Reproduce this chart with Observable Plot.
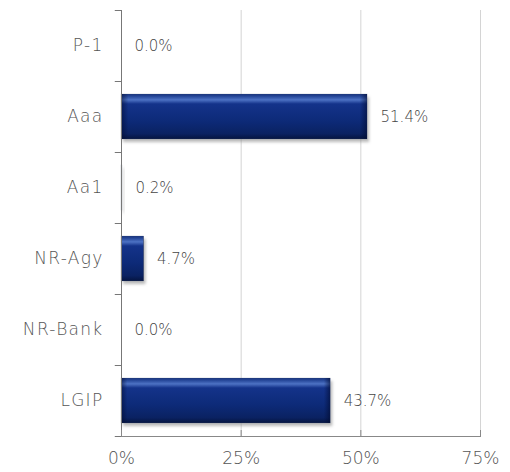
<!DOCTYPE html>
<html>
<head>
<meta charset="utf-8">
<script src="https://cdn.jsdelivr.net/npm/d3@7"></script>
<script src="https://cdn.jsdelivr.net/npm/@observablehq/plot@0.6"></script>
<style>
  html, body { margin: 0; padding: 0; background: #fff; }
  .ylab text { letter-spacing: 1.3px; }
</style>
</head>
<body>
<div id="chart"></div>
<script>
const categories = ["P-1", "Aaa", "Aa1", "NR-Agy", "NR-Bank", "LGIP"];
const values = [0.0, 51.4, 0.2, 4.7, 0.0, 43.7];
const xTicks = [0, 25, 50, 75];

const data = categories.map((c, i) => ({category: c, value: values[i]}));

const W = 510, H = 472, mt = 10, mb = 36, ml = 121, mr = 30;
const step = (H - mt - mb) / categories.length;
const font = "DejaVu Sans, sans-serif";

const plot = Plot.plot({
  width: W,
  height: H,
  marginTop: mt,
  marginBottom: mb,
  marginLeft: ml,
  marginRight: mr,
  style: {fontFamily: font, background: "#fff", overflow: "visible"},
  x: {domain: [0, 75], ticks: xTicks},
  y: {domain: categories, paddingInner: 0.36, paddingOuter: 0.18},
  marks: [
    Plot.gridX(xTicks.filter(d => d > 0), {stroke: "#d4d4d4", strokeOpacity: 1}),
    // bar shadows
    Plot.barX(data, {x: "value", y: "category", fill: "#8a8a8a", fillOpacity: 0.6, dx: 2, dy: 3, className: "shadow"}),
    Plot.barX(data, {x: "value", y: "category", fill: "url(#barGrad)", stroke: "#5a6a8a", strokeOpacity: 0.35, strokeWidth: 0.6, className: "bars"}),
    Plot.barX(data, {x: "value", y: "category", fill: "url(#edgeGrad)"}),
    Plot.ruleX([0], {stroke: "#777", strokeWidth: 1}),
    Plot.frame({anchor: "bottom", stroke: "#888"}),
    // y tick marks at band boundaries
    Plot.ruleY(categories, {y: d => d, x1: -1.3, x2: 0, dy: -step / 2, stroke: "#777"}),
    Plot.ruleY(categories.slice(-1), {y: d => d, x1: -1.3, x2: 0, dy: step / 2, stroke: "#777"}),
    Plot.axisY({tickSize: 0, tickPadding: 18, fontSize: 17, fontWeight: 200, fill: "#555", label: null, className: "ylab"}),
    Plot.axisX(xTicks, {tickSize: -6, tickPadding: 21, fontSize: 17, fontWeight: 200, fill: "#555", stroke: "#888", tickFormat: d => d + "%", label: null, className: "xlab"}),
    Plot.text(data, {x: "value", y: "category", text: d => d.value.toFixed(1) + "%", dx: 13, textAnchor: "start", fill: "#444", fontSize: 15, fontWeight: 200, fontFamily: font})
  ]
});

const svg = d3.select(plot);
const defs = svg.insert("defs", ":first-child");
const g = defs.append("linearGradient").attr("id", "barGrad")
  .attr("x1", 0).attr("y1", 0).attr("x2", 0).attr("y2", 1);
[[0, "#15307a"], [0.06, "#2a4c9e"], [0.13, "#4d72c4"], [0.22, "#14338a"], [0.6, "#0d2a78"], [0.88, "#0a2262"], [1, "#051440"]]
  .forEach(([o, c]) => g.append("stop").attr("offset", o).attr("stop-color", c));
const e = defs.append("linearGradient").attr("id", "edgeGrad")
  .attr("x1", 0).attr("y1", 0).attr("x2", 1).attr("y2", 0);
[[0, "#000a30", 0.55], [0.03, "#000a30", 0], [0.97, "#000a30", 0], [1, "#000a30", 0.6]]
  .forEach(([o, c, a]) => e.append("stop").attr("offset", o).attr("stop-color", c).attr("stop-opacity", a));
const f = defs.append("filter").attr("id", "blur").attr("x", "-20%").attr("y", "-20%").attr("width", "140%").attr("height", "160%");
f.append("feGaussianBlur").attr("stdDeviation", 1.6);
svg.selectAll("g.shadow rect, g[class*=shadow] rect").attr("filter", "url(#blur)");

document.getElementById("chart").appendChild(plot);
</script>
</body>
</html>
